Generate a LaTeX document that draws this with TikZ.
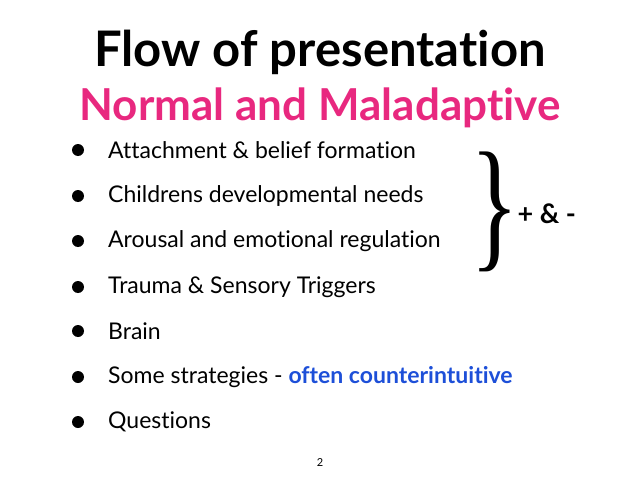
\documentclass[tikz,border=0pt]{standalone}
\usepackage{fontspec}
\setmainfont[Ligatures=CommonOff]{Lato}
\newfontfamily\bracefont{Liberation Serif}
\definecolor{slidepink}{HTML}{E8287F}
\definecolor{slideblue}{HTML}{1D4FD8}
\usetikzlibrary{positioning}
\tikzset{
  item/.style={anchor=west, font=\fontsize{23}{26}\selectfont, inner sep=0pt},
  dot/.style={circle, fill=black, inner sep=0pt, minimum size=12pt}
}
\begin{document}
\begin{tikzpicture}[x=1pt,y=-1pt]
  \useasboundingbox (0,0) rectangle (638,479);
  \node (title) at (320,52) {\fontsize{49}{52}\selectfont\bfseries Flow of presentation};
  \node [text=slidepink] (sub) at (320,108) {\fontsize{44}{48}\selectfont\bfseries Normal and Maladaptive};

  \foreach \y/\t [count=\i] in {150/Attachment \& belief formation,
      196/Childrens developmental needs,
      241/Arousal and emotional regulation,
      287/Trauma \& Sensory Triggers,
      331/Brain,
      377/{Some strategies - \textcolor{slideblue}{\bfseries often counterintuitive}},
      422/Questions} {
    \node [dot] (b\i) at (78,\y) {};
    \node [item] (t\i) at (108,\y) {\t};
  }

  \node [xscale=0.7] (brace) at (495,212) {\bracefont\fontsize{145}{145}\selectfont\}};
  \node [anchor=west] (sign) at (514,214) {\fontsize{27}{30}\selectfont\bfseries + \& -};
  \node (page) at (320,463) {\fontsize{11}{12}\selectfont 2};
\end{tikzpicture}
\end{document}
